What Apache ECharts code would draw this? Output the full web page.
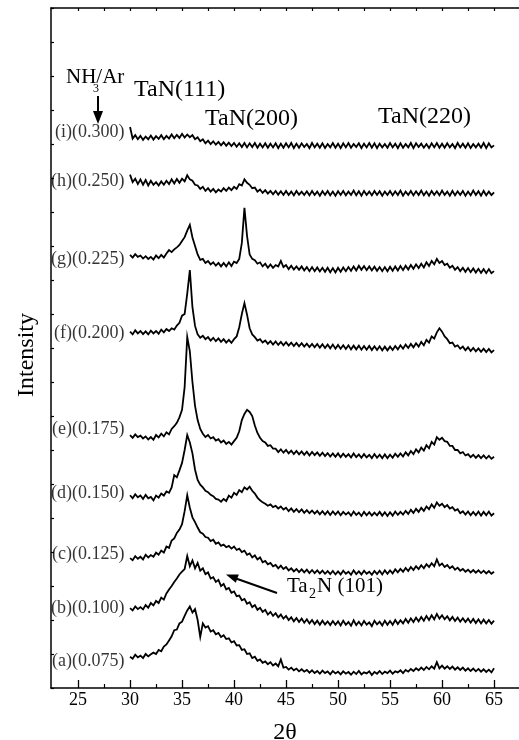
<!DOCTYPE html>
<html>
<head>
<meta charset="utf-8">
<script src="https://cdn.jsdelivr.net/npm/echarts@6/dist/echarts.min.js"></script>
<style>
  html, body { margin: 0; padding: 0; background: #fff; }
  #chart { width: 519px; height: 740px; }
</style>
</head>
<body>
<div id="chart"></div>
<script>
// XRD patterns, TaN films at different NH3/Ar ratios (stacked, offset by hand)

// 2theta scan, 0.25 deg step
const twoTheta = [
  30,30.25,30.5,30.75,31,31.25,31.5,31.75,32,32.25,32.5,32.75,33,33.25,33.5,33.75,34,34.25,34.5,34.75,
  35,35.25,35.5,35.75,36,36.25,36.5,36.75,37,37.25,37.5,37.75,38,38.25,38.5,38.75,39,39.25,39.5,39.75,
  40,40.25,40.5,40.75,41,41.25,41.5,41.75,42,42.25,42.5,42.75,43,43.25,43.5,43.75,44,44.25,44.5,44.75,
  45,45.25,45.5,45.75,46,46.25,46.5,46.75,47,47.25,47.5,47.75,48,48.25,48.5,48.75,49,49.25,49.5,49.75,
  50,50.25,50.5,50.75,51,51.25,51.5,51.75,52,52.25,52.5,52.75,53,53.25,53.5,53.75,54,54.25,54.5,54.75,
  55,55.25,55.5,55.75,56,56.25,56.5,56.75,57,57.25,57.5,57.75,58,58.25,58.5,58.75,59,59.25,59.5,59.75,
  60,60.25,60.5,60.75,61,61.25,61.5,61.75,62,62.25,62.5,62.75,63,63.25,63.5,63.75,64,64.25,64.5,64.75,
  65
];

// intensity (arb. units, already offset)
const traceA = [
  92,86,98,90,95,88,100,93,99,104,100,112,108,122,128,140,152,170,172,190,
  195,212,228,240,222,232,200,150,190,178,182,166,170,158,162,150,155,144,146,134,
  138,125,126,112,114,100,102,88,92,80,84,74,78,70,76,66,72,64,84,60,
  62,54,60,52,57,49,55,48,53,45,52,44,50,42,51,44,49,40,50,43,
  48,40,49,42,47,39,48,41,50,40,46,43,49,38,47,42,50,41,48,44,
  51,42,49,46,52,44,53,48,56,50,58,52,60,53,62,55,64,57,76,58,
  66,57,64,56,63,54,61,53,60,51,58,50,57,49,56,48,55,47,54,46,
  58
];
const traceB = [
  235,228,240,232,238,231,244,236,250,243,256,250,266,260,278,290,300,312,322,334,
  342,350,388,358,375,352,368,345,352,335,340,322,326,312,318,300,306,290,294,280,
  284,270,272,258,262,248,252,238,244,230,236,224,230,216,224,212,220,208,216,204,
  212,200,208,196,206,194,204,192,202,190,200,188,198,186,198,187,196,185,197,186,
  196,184,198,186,194,183,199,185,195,184,197,186,193,182,198,187,195,184,198,186,
  197,186,200,188,199,190,203,192,205,194,207,196,209,198,212,200,214,202,218,204,
  214,202,211,199,209,197,207,195,205,194,204,192,203,191,202,190,201,190,200,189,
  198
];
const traceC = [
  382,376,388,380,386,378,392,384,391,386,398,392,404,398,416,412,434,440,456,466,
  482,520,567,530,502,488,472,458,454,444,442,432,436,424,428,418,422,414,418,410,
  416,406,410,400,404,392,396,384,390,378,384,370,374,364,368,358,362,352,360,350,
  356,346,352,343,350,341,349,340,348,338,347,338,346,337,345,336,344,335,344,334,
  343,334,345,336,342,333,346,335,343,334,345,336,342,333,344,335,345,334,346,336,
  346,337,349,340,350,342,353,344,356,347,358,350,361,352,364,356,367,358,378,360,
  366,356,362,352,358,348,354,345,350,342,348,340,347,339,346,338,345,337,344,336,
  342
];
const traceD = [
  567,558,570,561,566,556,568,558,562,552,566,560,572,566,578,574,590,626,620,640,
  662,700,744,722,690,642,612,598,590,580,576,568,564,556,554,548,556,550,566,560,
  574,568,582,576,590,584,592,580,572,560,552,546,542,536,540,532,536,528,534,525,
  530,520,528,518,526,517,525,515,523,514,522,513,521,511,520,510,520,509,519,510,
  519,508,518,510,517,507,519,509,516,506,518,508,517,507,516,508,518,507,517,506,
  517,507,519,509,518,510,521,512,524,515,527,518,530,521,534,526,540,530,546,536,
  542,532,538,528,532,522,526,514,520,510,519,508,518,508,519,507,518,508,519,507,
  514
];
const traceE = [
  744,736,746,738,742,734,740,731,738,730,744,737,748,740,752,746,762,770,780,796,
  818,885,1032,990,900,830,788,762,748,738,744,734,738,728,732,722,728,718,724,716,
  726,736,755,788,806,818,812,800,772,750,736,726,722,712,714,704,704,694,702,692,
  700,690,698,688,697,687,696,686,695,684,694,685,693,683,692,682,691,681,690,680,
  690,679,689,680,688,678,690,679,687,677,688,678,686,676,688,677,686,676,687,676,
  686,677,689,680,690,681,693,684,697,688,702,693,707,698,714,705,724,716,738,730,
  736,726,724,712,712,700,700,690,694,684,688,679,686,677,685,676,684,675,683,674,
  680
];
const traceF = [
  1048,1040,1052,1043,1050,1041,1049,1040,1051,1043,1050,1042,1054,1046,1056,1050,1058,1054,1066,1074,
  1095,1100,1160,1229,1120,1065,1040,1030,1036,1026,1032,1022,1030,1020,1028,1018,1026,1016,1024,1015,
  1026,1034,1061,1100,1132,1098,1058,1040,1032,1022,1026,1016,1022,1012,1020,1010,1019,1009,1018,1008,
  1017,1007,1016,1006,1015,1005,1014,1004,1013,1003,1012,1002,1012,1001,1011,1000,1010,999,1010,998,
  1009,998,1008,997,1008,996,1007,996,1007,995,1006,995,1006,994,1005,994,1005,993,1004,993,
  1004,994,1006,996,1008,998,1010,1000,1012,1002,1014,1004,1018,1008,1024,1016,1034,1028,1046,1058,
  1048,1034,1026,1014,1016,1004,1008,998,1004,993,1002,991,1000,990,999,989,998,988,997,987,
  994
];
const traceG = [
  1274,1266,1276,1268,1272,1263,1270,1262,1268,1260,1272,1264,1274,1266,1278,1288,1282,1290,1296,1303,
  1315,1326,1345,1362,1325,1300,1275,1259,1262,1250,1256,1246,1252,1242,1250,1240,1250,1240,1252,1241,
  1254,1250,1262,1309,1412,1330,1275,1262,1258,1248,1252,1240,1248,1236,1246,1236,1244,1240,1256,1238,
  1244,1232,1242,1231,1240,1230,1240,1228,1238,1226,1238,1226,1237,1225,1236,1224,1236,1223,1235,1222,
  1236,1224,1237,1226,1238,1227,1240,1228,1242,1230,1241,1229,1240,1228,1239,1227,1238,1226,1238,1226,
  1239,1227,1240,1228,1241,1229,1242,1231,1244,1233,1246,1235,1248,1237,1252,1241,1256,1246,1262,1250,
  1256,1244,1248,1236,1242,1230,1238,1226,1236,1224,1235,1223,1234,1222,1233,1221,1232,1220,1232,1220,
  1226
];
const traceH = [
  1510,1488,1498,1482,1496,1480,1494,1478,1492,1480,1488,1478,1490,1480,1492,1482,1496,1484,1497,1486,
  1498,1490,1508,1496,1492,1480,1478,1468,1474,1462,1470,1460,1468,1458,1466,1460,1470,1462,1472,1464,
  1474,1468,1482,1478,1496,1486,1480,1470,1472,1460,1466,1456,1464,1454,1462,1452,1462,1451,1461,1450,
  1462,1450,1460,1449,1462,1451,1460,1450,1461,1449,1462,1450,1460,1448,1461,1450,1462,1449,1460,1448,
  1461,1450,1462,1449,1460,1450,1463,1449,1461,1448,1462,1450,1460,1449,1462,1450,1461,1448,1460,1450,
  1462,1449,1461,1450,1463,1448,1460,1450,1462,1449,1461,1450,1463,1449,1460,1448,1462,1450,1461,1449,
  1463,1450,1460,1448,1462,1449,1461,1450,1462,1448,1460,1449,1463,1450,1461,1448,1462,1449,1460,1450,
  1458
];
const traceI = [
  1650,1616,1626,1614,1624,1612,1622,1614,1625,1613,1623,1615,1626,1614,1624,1616,1628,1617,1627,1618,
  1630,1619,1628,1620,1626,1614,1620,1608,1614,1602,1610,1600,1608,1598,1606,1596,1605,1595,1604,1594,
  1603,1592,1602,1591,1603,1590,1602,1591,1603,1589,1601,1590,1602,1589,1601,1590,1602,1588,1601,1589,
  1602,1590,1603,1588,1601,1589,1602,1591,1600,1588,1603,1590,1601,1589,1602,1588,1600,1590,1603,1589,
  1601,1588,1602,1590,1603,1589,1600,1591,1602,1588,1601,1590,1603,1589,1602,1588,1601,1590,1600,1589,
  1603,1590,1601,1588,1602,1589,1600,1590,1603,1588,1602,1591,1601,1589,1600,1588,1602,1590,1603,1589,
  1601,1589,1602,1590,1600,1588,1603,1590,1601,1589,1602,1588,1600,1590,1601,1589,1603,1588,1602,1590,
  1596
];

const sampleNames = ['(a)(0.075)','(b)(0.100)','(c)(0.125)','(d)(0.150)','(e)(0.175)',
                     '(f)(0.200)','(g)(0.225)','(h)(0.250)','(i)(0.300)'];
const labelLevels = [79, 235, 394, 573, 762, 1044, 1262, 1491, 1635];
const traces = [traceA, traceB, traceC, traceD, traceE, traceF, traceG, traceH, traceI];

const majorTicks = [25, 30, 35, 40, 45, 50, 55, 60, 65];
const minorTicks = [27.5, 32.5, 37.5, 42.5, 47.5, 52.5, 57.5, 62.5];
const topTicks = [25, 27.5, 30, 32.5, 35, 37.5, 40, 42.5, 45, 47.5, 50, 52.5, 55, 57.5, 60, 62.5, 65];

const serif = 'Liberation Serif';
const ink = '#000';

traces.forEach(function (t, i) {
  if (t.length !== twoTheta.length) console.log('length mismatch', i, t.length)
})

const chart = echarts.init(document.getElementById('chart'));

const series = traces.map(function (t, i) {
  return {
    name: sampleNames[i],
    type: 'line',
    symbol: 'none',
    lineStyle: { color: '#000', width: 1.8, join: 'miter' },
    data: t.map(function (v, k) { return [twoTheta[k], v]; }),
    animation: false,
    z: 3
  };
});

// sample labels sit just left of each scan start
series.push({
  type: 'scatter',
  symbolSize: 1,
  itemStyle: { color: 'rgba(0,0,0,0)' },
  label: {
    show: true,
    position: 'left',
    distance: 5,
    formatter: function (p) { return sampleNames[p.dataIndex]; },
    fontFamily: serif,
    fontSize: 18,
    color: ink
  },
  data: labelLevels.map(function (v) { return [30, v]; }),
  animation: false,
  silent: true
});

const axisLineStyle = { color: '#000', width: 1.5 };

chart.setOption({
  backgroundColor: '#fff',
  grid: { left: 51, right: 0, top: 8, bottom: 52, containLabel: false, outerBoundsMode: 'none' },
  xAxis: [
    {
      type: 'value', position: 'bottom', min: 22.4, max: 67.4,
      axisLine: { lineStyle: axisLineStyle },
      axisTick: { inside: true, length: 8, customValues: majorTicks, lineStyle: { color: '#000', width: 1.3 } },
      axisLabel: { customValues: majorTicks, fontFamily: serif, fontSize: 18, color: ink, margin: 3 },
      splitLine: { show: false },
      name: '2θ', nameLocation: 'middle', nameGap: 33,
      nameTextStyle: { fontFamily: serif, fontSize: 24, color: ink }
    },
    {
      type: 'value', position: 'bottom', min: 22.4, max: 67.4,
      axisLine: { show: false },
      axisTick: { inside: true, length: 4, customValues: minorTicks, lineStyle: { color: '#000', width: 1.2 } },
      axisLabel: { show: false },
      splitLine: { show: false }
    },
    {
      type: 'value', position: 'top', min: 22.4, max: 67.4,
      axisLine: { lineStyle: axisLineStyle },
      axisTick: { inside: true, length: 3, customValues: topTicks, lineStyle: { color: '#000', width: 1.2 } },
      axisLabel: { show: false },
      splitLine: { show: false }
    }
  ],
  yAxis: [
    {
      type: 'value', min: 0, max: 2000, interval: 100,
      axisLine: { show: true, lineStyle: axisLineStyle },
      axisTick: { show: true, inside: true, length: 3, lineStyle: { color: '#000', width: 1.2 } },
      axisLabel: { show: false },
      splitLine: { show: false }
    }
  ],
  series: series,
  graphic: [
    { type: 'text', x: 27, y: 355, rotation: Math.PI / 2,
      style: { text: 'Intensity', font: '24px "Liberation Serif"', fill: ink, align: 'center', verticalAlign: 'middle' } },
    { type: 'text', left: 66, top: 67, style: { text: 'NH/Ar', font: '21px "Liberation Serif"', fill: ink } },
    { type: 'text', left: 93, top: 83, style: { text: '3', font: '12px "Liberation Serif"', fill: ink } },
    { type: 'line', shape: { x1: 98, y1: 96, x2: 98, y2: 113 }, style: { stroke: '#000', lineWidth: 2 } },
    { type: 'polygon', shape: { points: [[93, 111], [103, 111], [98, 124]] }, style: { fill: '#000' } },
    { type: 'text', left: 134, top: 78, style: { text: 'TaN(111)', font: '24px "Liberation Serif"', fill: ink } },
    { type: 'text', left: 205, top: 107, style: { text: 'TaN(200)', font: '24px "Liberation Serif"', fill: ink } },
    { type: 'text', left: 378, top: 105, style: { text: 'TaN(220)', font: '24px "Liberation Serif"', fill: ink } },
    { type: 'text', left: 287, top: 576, style: { text: 'Ta', font: '21px "Liberation Serif"', fill: ink } },
    { type: 'text', left: 309, top: 587, style: { text: '2', font: '14px "Liberation Serif"', fill: ink } },
    { type: 'text', left: 317, top: 576, style: { text: 'N (101)', font: '21px "Liberation Serif"', fill: ink } },
    { type: 'line', shape: { x1: 277, y1: 593, x2: 236, y2: 578.5 }, style: { stroke: '#000', lineWidth: 2 } },
    { type: 'polygon', shape: { points: [[226, 574.5], [238.8, 574.4], [235.8, 582.8]] }, style: { fill: '#000' } }
  ]
});
</script>
</body>
</html>
